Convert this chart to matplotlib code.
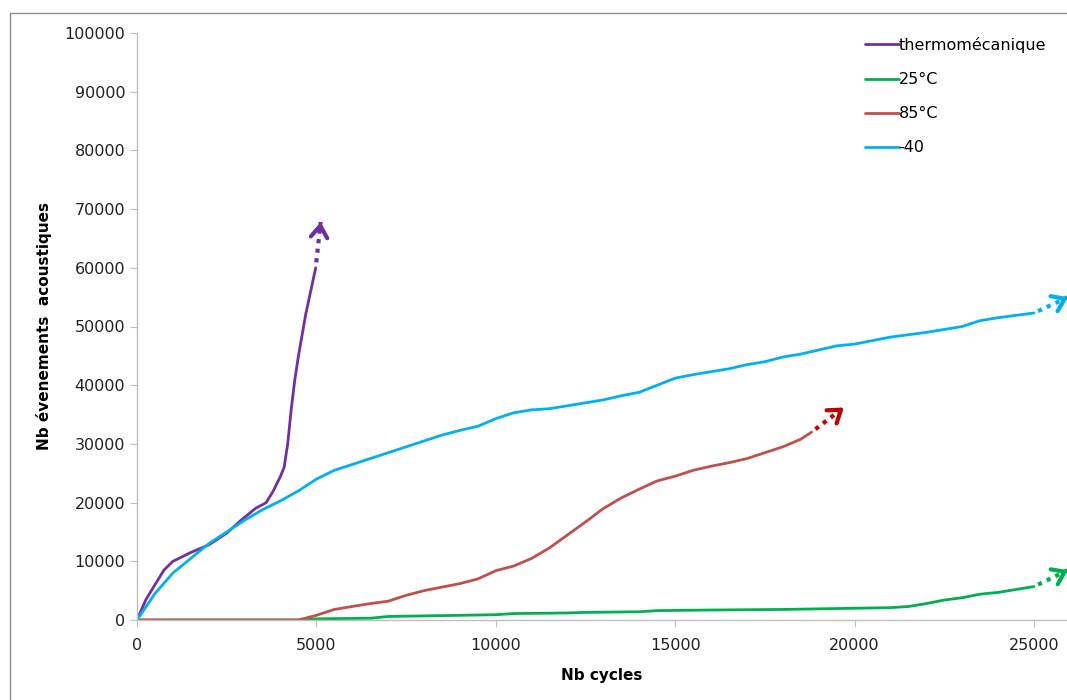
import matplotlib.pyplot as plt
from matplotlib.patches import Rectangle

# --- data ---
thermo_x = [0, 250, 500, 750, 1000, 1500, 2000, 2500, 2900, 3300, 3600, 3800, 4000, 4100, 4200, 4300, 4400, 4500, 4700, 4980]
thermo_y = [0, 3500, 6000, 8500, 10000, 11500, 12800, 14800, 17000, 19000, 20000, 22000, 24500, 26000, 30000, 36000, 41000, 45000, 52000, 60000]

c25_x = [0, 4500, 5000, 6500, 7000, 8000, 9000, 10000, 10500, 12000, 12500, 14000, 14500, 16000, 18000, 19000, 20000, 21000, 21500, 22000, 22500, 23000, 23500, 24000, 24500, 25000]
c25_y = [0, 0, 200, 300, 600, 700, 800, 900, 1100, 1200, 1300, 1400, 1600, 1700, 1800, 1900, 2000, 2100, 2300, 2800, 3400, 3800, 4400, 4700, 5200, 5700]

c85_x = [0, 4500, 5000, 5500, 6000, 6500, 7000, 7500, 8000, 8500, 9000, 9500, 10000, 10500, 11000, 11500, 12000,
         12500, 13000, 13500, 14000, 14500, 15000, 15500, 16000, 16500, 17000, 17500, 18000, 18500, 18800]
c85_y = [0, 0, 800, 1800, 2300, 2800, 3200, 4200, 5000, 5600, 6200, 7000, 8400, 9200, 10500, 12300, 14500,
         16700, 19000, 20800, 22300, 23700, 24500, 25500, 26200, 26800, 27500, 28500, 29500, 30800, 32000]

m40_x = [0, 500, 1000, 1500, 2000, 2500, 3000, 3500, 4000, 4500, 5000, 5500, 6000, 6500, 7000, 7500, 8000, 8500,
         9000, 9500, 10000, 10500, 11000, 11500, 12000, 12500, 13000, 13500, 14000, 14500, 15000, 15500, 16000,
         16500, 17000, 17500, 18000, 18500, 19000, 19500, 20000, 21000, 22000, 23000, 23500, 24000, 25000]
m40_y = [0, 4500, 8000, 10500, 13000, 15000, 17000, 18800, 20300, 22000, 24000, 25500, 26500, 27500, 28500, 29500,
         30500, 31500, 32300, 33000, 34300, 35300, 35800, 36000, 36500, 37000, 37500, 38200, 38800, 40000, 41200,
         41800, 42300, 42800, 43500, 44000, 44800, 45300, 46000, 46700, 47000, 48200, 49000, 50000, 51000, 51500, 52300]

# arrow tips (extrapolation arrows)
thermo_tip = (5120, 67800)
c25_tip = (25950, 8500)
c85_tip = (19700, 36200)
m40_tip = (25950, 55000)

fig = plt.figure(figsize=(10.67, 7), dpi=100)
ax = fig.add_axes([137 / 1067, 80 / 700, 1 - 137 / 1067, 587 / 700])

series = [
    (thermo_x, thermo_y, thermo_tip, "#7030A0", "#7030A0", "thermomécanique"),
    (c25_x, c25_y, c25_tip, "#00B050", "#00B050", "25°C"),
    (c85_x, c85_y, c85_tip, "#C0504D", "#C00000", "85°C"),
    (m40_x, m40_y, m40_tip, "#00B0F0", "#00B0F0", "-40"),
]
for xs, ys, tip, col, acol, lab in series:
    ax.plot(xs, ys, color=col, lw=2, label=lab, solid_capstyle="round")
    x0, y0 = xs[-1], ys[-1]
    # dotted shaft
    fx = x0 + (tip[0] - x0) * 0.12
    fy = y0 + (tip[1] - y0) * 0.12
    ax.plot([fx, tip[0]], [fy, tip[1]], color=acol, lw=3, ls=(0, (1, 1.3)), clip_on=False)
    # open head
    hx = x0 + (tip[0] - x0) * 0.85
    hy = y0 + (tip[1] - y0) * 0.85
    ax.annotate("", xy=tip, xytext=(hx, hy), annotation_clip=False,
                arrowprops=dict(arrowstyle="->,head_length=0.5,head_width=0.35", color=acol, lw=3,
                                shrinkA=0, shrinkB=0, mutation_scale=17))

ax.set_xlim(0, 25920)
ax.set_ylim(0, 100000)
ax.set_xticks(range(0, 25001, 5000))
ax.set_yticks(range(0, 100001, 10000))
for s in ["top", "right"]:
    ax.spines[s].set_visible(False)
for s in ["left", "bottom"]:
    ax.spines[s].set_color("#BFBFBF")
    ax.spines[s].set_linewidth(1)
ax.tick_params(axis="both", colors="#BFBFBF", labelcolor="#222222", labelsize=11.5, length=5, direction="out")
ax.tick_params(axis="x", pad=8)

ax.set_xlabel("Nb cycles", fontsize=11, fontweight="bold", labelpad=11)
ax.set_ylabel("Nb évenements  acoustiques", fontsize=11, fontweight="bold", labelpad=9)

ax.legend(loc="upper left", bbox_to_anchor=(865 / 1067, 663 / 700), bbox_transform=fig.transFigure,
          frameon=False, fontsize=11.5, handlelength=2.1, handletextpad=0.0, labelspacing=1.2,
          borderpad=0, borderaxespad=0)

fig.patches.append(Rectangle((10 / 1067, -0.1), 2, (700 - 13) / 700 + 0.1, transform=fig.transFigure,
                             fill=False, edgecolor="#8C8C8C", lw=1))

fig.savefig("out.png", dpi=100)
